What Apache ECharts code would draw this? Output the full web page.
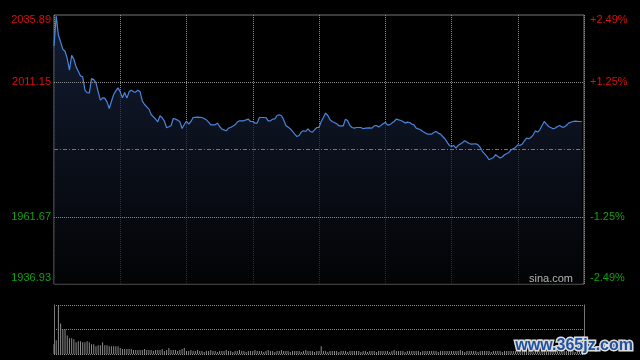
<!DOCTYPE html>
<html>
<head>
<meta charset="utf-8">
<script src="https://cdn.jsdelivr.net/npm/echarts@6/dist/echarts.min.js"></script>
<style>html,body{margin:0;padding:0;background:#000;}#c{width:640px;height:360px;}</style>
</head>
<body>
<div id="c"></div>
<script>
// ---- data ----
var prevClose = 1986.41;
var priceMin = 1936.93;
var priceMax = 2035.89;
var priceTicks = [1936.93, 1961.67, 2011.15, 2035.89];
var gridPrices = [1961.67, 2011.15];
var minutes = [0,1,2,3,4,5,6,7,8,9,10,11,12,13,14,15,16,17,18,19,20,21,22,23,24,25,26,27,28,29,30,31,32,33,34,35,36,37,38,39,40,41,43,44,46,47,48,49,50,51,52,53,54,55,56,57,58,59,60,61,62,63,65,67,69,70,71,73,74,75,76,78,79,80,82,83,84,86,87,88,89,90,91,92,93,95,96,97,98,99,100,101,102,103,104,105,107,108,109,110,111,112,113,114,115,116,117,118,119,120,121,122,123,124,125,126,128,129,131,132,133,134,135,136,137,139,140,141,143,144,145,146,147,148,149,150,151,152,153,154,155,157,158,159,160,161,162,163,164,166,167,169,171,172,173,174,175,176,177,178,179,180,181,182,183,185,186,188,189,191,192,193,194,196,197,199,200,201,202,203,204,206,207,209,210,211,212,213,214,215,216,217,218,219,220,221,222,223,224,226,227,228,229,230,231,232,233,235,236,238,239];
var prices = [2024.51,2035.52,2028.44,2025.98,2023.30,2022.56,2019.84,2015.58,2021.09,2019.62,2016.80,2015.22,2013.49,2013.12,2008.24,2007.36,2007.25,2012.50,2012.13,2011.03,2007.62,2004.57,2005.41,2005.30,2003.94,2001.48,2004.05,2006.62,2007.98,2009.08,2007.62,2005.41,2007.36,2005.30,2007.62,2008.24,2007.62,2007.55,2008.24,2007.62,2004.20,2002.95,2001.26,1999.28,1997.59,1996.60,1998.80,1998.07,1996.86,1994.40,1994.76,1995.13,1997.81,1997.59,1997.22,1996.60,1994.14,1995.61,1996.86,1995.76,1996.71,1998.18,1998.33,1998.18,1997.33,1996.49,1995.50,1995.50,1996.12,1994.87,1993.92,1993.30,1994.29,1994.51,1995.50,1996.49,1996.97,1996.97,1997.33,1997.59,1996.71,1996.71,1996.12,1996.12,1998.18,1998.18,1998.10,1996.97,1996.97,1997.59,1997.70,1998.91,1999.17,1998.80,1997.33,1995.24,1994.03,1993.04,1992.08,1991.20,1991.57,1992.82,1993.30,1993.04,1994.03,1993.04,1992.82,1993.66,1994.51,1994.51,1996.71,1998.18,1999.79,1998.91,1997.33,1996.71,1995.87,1995.13,1995.13,1997.59,1996.97,1995.24,1994.51,1994.29,1994.51,1994.51,1994.03,1994.29,1994.40,1994.29,1995.13,1995.24,1994.65,1995.24,1995.87,1996.34,1995.50,1995.50,1996.12,1996.71,1997.59,1997.08,1996.71,1996.12,1996.49,1996.34,1995.76,1995.50,1994.29,1993.66,1993.04,1992.08,1992.08,1992.67,1993.04,1992.45,1992.08,1991.20,1990.36,1989.15,1987.90,1987.53,1987.90,1986.94,1987.90,1989.00,1989.62,1988.63,1988.41,1988.52,1988.15,1987.16,1985.69,1983.86,1982.65,1983.49,1984.48,1983.86,1983.27,1983.64,1984.48,1985.33,1986.32,1987.16,1988.15,1987.90,1988.41,1989.62,1990.61,1990.36,1990.83,1991.83,1993.30,1992.82,1993.66,1995.24,1996.71,1995.76,1994.87,1994.03,1994.29,1994.87,1995.24,1994.65,1994.65,1995.24,1996.12,1996.71,1996.86,1996.71,1996.71];
var volumes = [
10,14,49,31,25,25,19,16,16,15,
12,13,13,12,12,13,12,10,10,8,
9,9,12,9,9,8,8,8,8,8,
6,5,5,5,5,5,4,4,4,4,
4,5,4,4,4,3,4,4,4,5,
3,4,6,4,4,4,3,4,5,6,
3,3,4,3,3,4,3,3,2,3,
3,4,3,3,2,3,3,3,4,3,
3,2,3,3,4,3,3,2,3,3,
3,4,3,3,3,2,3,4,3,3,
2,3,3,4,3,3,3,2,3,3,
3,3,2,3,4,3,3,3,2,3,
3,8,3,3,2,3,3,3,3,2,
3,3,3,2,3,3,3,3,3,2,
3,3,2,3,3,3,2,3,3,3,
3,3,2,3,4,3,3,3,3,2,
3,3,3,3,3,3,2,3,3,3,
3,3,3,3,2,3,3,3,3,3,
3,3,3,3,4,3,2,3,3,3,
3,3,2,3,3,3,3,3,2,3,
3,3,3,2,3,3,3,3,3,3,
2,3,3,3,3,3,3,2,3,3,
3,3,3,3,2,3,3,3,3,2,
3,3,3,3,3,3,2,3,3,3,
3];
var volMax = 50;

// ---- styles ----
var RED = '#d81010', GREEN = '#12a012';
var FONT = '"Liberation Sans", Arial, sans-serif';
var BORDER = '#777777';
var DOT = '#8a8a8a';

var chart = echarts.init(document.getElementById('c'), null, {renderer: 'canvas'});

function near(a, b) { return Math.abs(a - b) < 0.005; }
function leftFmt(v) {
  var s = v.toFixed(2);
  if (near(v, priceMax)) return '{upTop|' + s + '}';
  if (near(v, priceMin)) return '{dnBot|' + s + '}';
  return v > prevClose ? '{up|' + s + '}' : '{dn|' + s + '}';
}
function rightFmt(v) {
  var p = (v - prevClose) / prevClose * 100;
  var s = (p > 0 ? '+' : '') + p.toFixed(2) + '%';
  if (near(v, priceMax)) return '{upTop|' + s + '}';
  if (near(v, priceMin)) return '{dnBot|' + s + '}';
  return v > prevClose ? '{up|' + s + '}' : '{dn|' + s + '}';
}
var rich = {
  up: {color: RED, fontSize: 11, fontFamily: FONT},
  dn: {color: GREEN, fontSize: 11, fontFamily: FONT},
  upTop: {color: RED, fontSize: 11, fontFamily: FONT, padding: [10, 0, 0, 0]},
  dnBot: {color: GREEN, fontSize: 11, fontFamily: FONT, padding: [0, 0, 12, 0]}
};

var linePts = minutes.map(function (m, i) { return [m, prices[i]]; });
var volPts = volumes.map(function (v, i) { return [i, v]; });

var markData = gridPrices.map(function (p) {
  return {yAxis: p, lineStyle: {type: [1, 1], color: DOT, width: 1}};
});
markData.push({yAxis: prevClose, lineStyle: {type: [4, 2, 1, 2], color: '#6f7686', width: 1}});

chart.setOption({
  animation: false,
  backgroundColor: '#000000',
  grid: [
    {left: 54, right: 56, top: 15, height: 269, show: true, borderColor: BORDER, borderWidth: 1, backgroundColor: 'transparent'},
    {left: 54, right: 56, top: 305, height: 49, show: false}
  ],
  xAxis: [
    {type: 'value', gridIndex: 0, min: 0, max: 240, interval: 30,
      axisLine: {show: false}, axisTick: {show: false}, axisLabel: {show: false},
      splitLine: {show: true, lineStyle: {type: [1, 1], color: DOT, width: 1}}},
    {type: 'value', gridIndex: 1, min: 0, max: 240, interval: 30,
      axisLine: {show: false}, axisTick: {show: false}, axisLabel: {show: false},
      splitLine: {show: false}}
  ],
  yAxis: [
    {type: 'value', gridIndex: 0, position: 'left', min: priceMin, max: priceMax,
      axisLine: {show: false}, axisTick: {show: false}, splitLine: {show: false},
      axisLabel: {show: true, customValues: priceTicks, margin: 3, formatter: leftFmt, rich: rich}},
    {type: 'value', gridIndex: 0, position: 'right', min: priceMin, max: priceMax,
      axisLine: {show: false}, axisTick: {show: false}, splitLine: {show: false},
      axisLabel: {show: true, customValues: priceTicks, margin: 6, formatter: rightFmt, rich: rich}},
    {type: 'value', gridIndex: 1, position: 'left', min: 0, max: volMax, interval: volMax / 2,
      axisLine: {show: true, lineStyle: {color: BORDER, width: 1}}, axisTick: {show: false}, axisLabel: {show: false},
      splitLine: {show: true, lineStyle: {type: [1, 1], color: DOT, width: 1}}},
    {type: 'value', gridIndex: 1, position: 'right', min: 0, max: volMax, interval: volMax / 2,
      axisLine: {show: true, lineStyle: {color: BORDER, width: 1}}, axisTick: {show: false}, axisLabel: {show: false},
      splitLine: {show: false}}
  ],
  series: [
    {type: 'line', xAxisIndex: 0, yAxisIndex: 0, data: linePts, showSymbol: false, symbol: 'none',
      lineStyle: {color: '#4a84dc', width: 1.2},
      areaStyle: {origin: 'start', color: new echarts.graphic.LinearGradient(0, 0, 0, 1, [
        {offset: 0, color: '#1b2846'}, {offset: 1, color: '#040508'}])},
      markLine: {silent: true, symbol: ['none', 'none'], label: {show: false}, animation: false, data: markData},
      z: 3},
    {type: 'bar', xAxisIndex: 1, yAxisIndex: 2, data: volPts, barWidth: 1,
      itemStyle: {color: '#8c8c8c'}}
  ],
  graphic: [
    {type: 'text', x: 573, y: 279, z: 10, style: {text: 'sina.com', fill: '#b4b4b4', font: '11px ' + FONT, textAlign: 'right', textVerticalAlign: 'middle'}},
    {type: 'text', x: 633, y: 346, z: 10, style: {text: 'www.365jz.com', fill: '#1f52a3', stroke: '#dcdcdc', lineWidth: 3, font: 'bold 16px ' + FONT, textAlign: 'right', textVerticalAlign: 'middle'}}
  ]
});
</script>
</body>
</html>
